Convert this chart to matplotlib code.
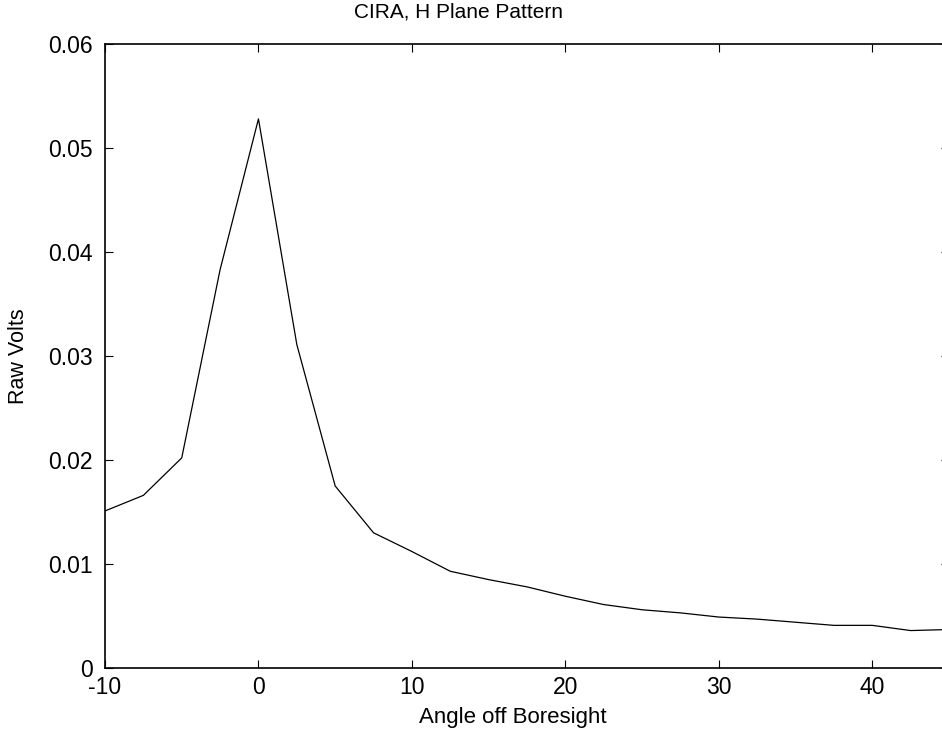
import matplotlib
matplotlib.use("Agg")
import matplotlib.pyplot as plt

angles = [-10, -7.5, -5, -2.5, 0, 2.5, 5, 7.5, 10, 12.5, 15, 17.5, 20, 22.5,
          25, 27.5, 30, 32.5, 35, 37.5, 40, 42.5, 45]
volts = [0.0151, 0.0166, 0.0202, 0.0383, 0.0528, 0.0311, 0.0175, 0.0130,
         0.0112, 0.0093, 0.0085, 0.0078, 0.0069, 0.0061, 0.0056, 0.0053,
         0.0049, 0.0047, 0.0044, 0.0041, 0.0041, 0.0036, 0.0037]
xticks = [-10, 0, 10, 20, 30, 40]
yticks = [0, 0.01, 0.02, 0.03, 0.04, 0.05, 0.06]
ylabels = ["0", "0.01", "0.02", "0.03", "0.04", "0.05", "0.06"]

plt.rcParams['font.family'] = ['Liberation Sans', 'DejaVu Sans']

W, H = 942, 740
fig = plt.figure(figsize=(W / 100, H / 100), dpi=100)
L, R, T, B = 105, 949, 44, 668
ax = fig.add_axes([L / W, 1 - B / H, (R - L) / W, (B - T) / H])
ax.plot(angles, volts, color='black', linewidth=0.9)
ax.set_xlim(-10, 45)
ax.set_ylim(0, 0.06)
ax.set_xticks(xticks)
ax.set_xticklabels([str(t) for t in xticks])
ax.set_yticks(yticks)
ax.set_yticklabels(ylabels)
ax.tick_params(direction='in', length=6, width=0.8, top=True, right=True,
               labelsize=16.5)
ax.tick_params(axis='x', pad=6)
ax.tick_params(axis='y', pad=9)
for s in ax.spines.values():
    s.set_linewidth(1.2)

fig.text(459 / W, 1 - 12 / H, "CIRA, H Plane Pattern", ha='center', va='center', fontsize=15)
fig.text(513 / W, 1 - 718 / H, "Angle off Boresight", ha='center', va='center', fontsize=16)
fig.text(19 / W, 1 - 356 / H, "Raw Volts", ha='center', va='center', rotation=90, fontsize=15.5)

fig.savefig("out.png", dpi=100)
